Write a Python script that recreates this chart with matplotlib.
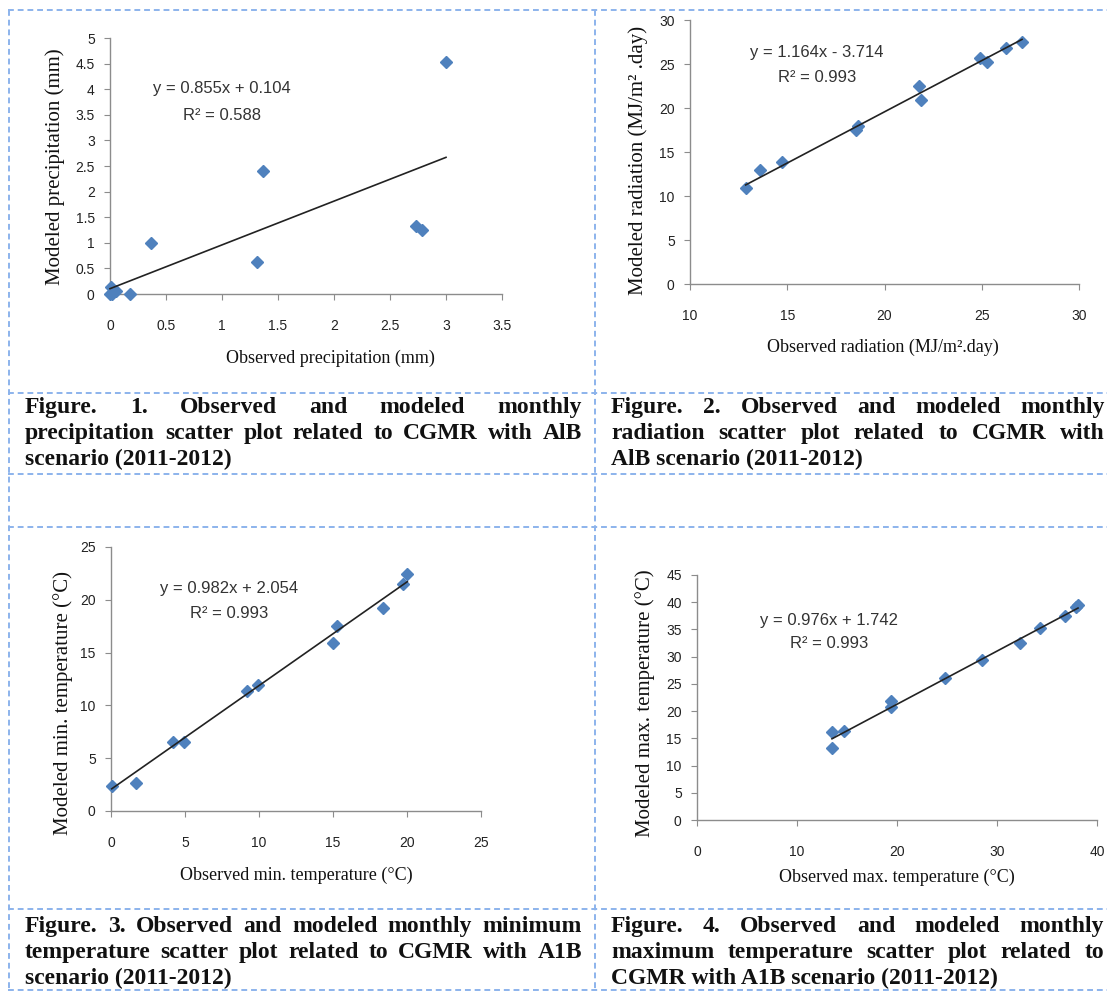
import numpy as np
import matplotlib
matplotlib.use("Agg")
import matplotlib.pyplot as plt
from matplotlib.ticker import FuncFormatter

W, H = 1107, 991

# ---- data ----
# Fig 1: precipitation (mm)
pr_obs = [0.0, 0.01, 0.02, 0.05, 0.18, 0.37, 1.31, 1.37, 2.73, 2.79, 3.0]
pr_mod = [0.0, 0.14, 0.0, 0.05, 0.0, 1.0, 0.63, 2.4, 1.33, 1.25, 4.53]
pr_fit = (0.855, 0.104, "0.588")

# Fig 2: radiation (MJ/m2.day)
rad_obs = [12.86, 13.6, 14.74, 18.53, 18.65, 21.78, 21.87, 24.93, 25.27, 26.23, 27.07]
rad_mod = [10.9, 12.9, 13.92, 17.5, 17.97, 22.5, 20.9, 25.65, 25.27, 26.86, 27.54]
rad_fit = (1.164, -3.714, "0.993")

# Fig 3: minimum temperature (C)
tmin_obs = [0.05, 1.69, 4.21, 4.93, 9.17, 9.91, 14.98, 15.25, 18.4, 19.75, 20.02]
tmin_mod = [2.37, 2.62, 6.57, 6.57, 11.41, 11.95, 15.9, 17.54, 19.2, 21.52, 22.44]
tmin_fit = (0.982, 2.054, "0.993")

# Fig 4: maximum temperature (C)
tmax_obs = [13.5, 13.53, 14.67, 19.37, 19.43, 24.77, 28.5, 32.27, 34.27, 36.77, 37.93, 38.1]
tmax_mod = [13.17, 16.1, 16.4, 20.8, 21.9, 26.1, 29.3, 32.6, 35.3, 37.5, 39.1, 39.5]
tmax_fit = (0.976, 1.742, "0.993")

captions = [
    ["Figure. 1. Observed and modeled monthly",
     "precipitation scatter plot related to CGMR with AlB",
     "scenario (2011-2012)"],
    ["Figure. 2. Observed and modeled monthly",
     "radiation scatter plot related to CGMR with",
     "AlB scenario (2011-2012)"],
    ["Figure. 3. Observed and modeled monthly minimum",
     "temperature scatter plot related to CGMR with A1B",
     "scenario (2011-2012)"],
    ["Figure. 4. Observed and modeled monthly",
     "maximum temperature scatter plot related to",
     "CGMR with A1B scenario (2011-2012)"],
]

BLUE = "#4F81BD"
GRID = "#8CB3EC"
SERIF = "Liberation Serif"
SANS = "Liberation Sans"

fig = plt.figure(figsize=(W / 100, H / 100), dpi=100)
fig.patch.set_facecolor("white")

# full-figure axes in pixel units for the table frame and texts
bg = fig.add_axes([0, 0, 1, 1], zorder=0)
bg.set_xlim(0, W)
bg.set_ylim(H, 0)
bg.axis("off")

dash = dict(color=GRID, lw=1.4, dashes=(3, 2))
for yy in [10, 393, 474, 527, 909, 990]:
    bg.plot([8, W], [yy, yy], **dash)
for xx in [9, 595]:
    bg.plot([xx, xx], [10, H], **dash)


def px_axes(x0, y0, x1, y1):
    return fig.add_axes([x0 / W, 1 - y1 / H, (x1 - x0) / W, (y1 - y0) / H], zorder=2)


fmt = FuncFormatter(lambda v, p: "%g" % v)


def scatter_panel(box, obs, mod, fit, xlim, ylim, xstep, ystep):
    ax = px_axes(*box)
    ax.patch.set_alpha(0)
    ax.plot(obs, mod, "D", ms=6.5, color=BLUE, mec=BLUE, zorder=3, clip_on=False)
    a, b, _ = fit
    xs = np.array([min(obs), max(obs)])
    ax.plot(xs, a * xs + b, color="#222222", lw=1.2, zorder=4, clip_on=False)
    ax.set_xlim(*xlim)
    ax.set_ylim(*ylim)
    ax.set_xticks(np.arange(xlim[0], xlim[1] + xstep / 2, xstep))
    ax.set_yticks(np.arange(ylim[0], ylim[1] + ystep / 2, ystep))
    ax.xaxis.set_major_formatter(fmt)
    ax.yaxis.set_major_formatter(fmt)
    for s in ["top", "right"]:
        ax.spines[s].set_visible(False)
    for s in ["left", "bottom"]:
        ax.spines[s].set_color("#8C8C8C")
        ax.spines[s].set_linewidth(1.0)
    ax.tick_params(axis="both", direction="out", length=4, color="#8C8C8C",
                   labelsize=10, labelcolor="#222222")
    ax.tick_params(axis="x", pad=14)
    ax.tick_params(axis="y", pad=7)
    for lab in ax.get_xticklabels() + ax.get_yticklabels():
        lab.set_family(SANS)
    return ax


scatter_panel((110, 38, 502, 294), pr_obs, pr_mod, pr_fit, (0, 3.5), (0, 5), 0.5, 0.5)
scatter_panel((690, 20, 1079, 284), rad_obs, rad_mod, rad_fit, (10, 30), (0, 30), 5, 5)
scatter_panel((111, 547, 481, 811), tmin_obs, tmin_mod, tmin_fit, (0, 25), (0, 25), 5, 5)
scatter_panel((697, 575, 1097, 820), tmax_obs, tmax_mod, tmax_fit, (0, 40), (0, 45), 10, 5)

# trendline equations
eq_pos = [(222, 89, 116, pr_fit), (817, 52, 78, rad_fit),
          (229, 589, 613, tmin_fit), (829, 620, 644, tmax_fit)]
for x, y1, y2, (a, b, r2) in eq_pos:
    sign = "+" if b >= 0 else "-"
    bg.text(x, y1, "y = %.3fx %s %.3f" % (a, sign, abs(b)), ha="center", va="center",
            family=SANS, fontsize=12, color="#333333")
    bg.text(x, y2, "R² = %s" % r2, ha="center", va="center",
            family=SANS, fontsize=12, color="#333333")

# axis titles
xlabels = [(330, 358, "Observed precipitation (mm)"),
           (883, 347, "Observed radiation (MJ/m².day)"),
           (296, 875, "Observed min. temperature (°C)"),
           (897, 877, "Observed max. temperature (°C)")]
ylabels = [(55, 167, "Modeled precipitation (mm)"),
           (638, 160, "Modeled radiation (MJ/m² .day)"),
           (63, 703, "Modeled min. temperature (°C)"),
           (645, 703, "Modeled max. temperature (°C)")]
for x, y, s in xlabels:
    bg.text(x, y, s, ha="center", va="center", family=SERIF, fontsize=13, color="#111111")
for x, y, s in ylabels:
    bg.text(x, y, s, ha="center", va="center", rotation=90, family=SERIF,
            fontsize=15, color="#111111")

# captions, justified like the word-processor table cells
renderer = fig.canvas.get_renderer()
cap_font = dict(family=SERIF, fontweight="bold", fontsize=17, color="#111111")


def caption_block(lines, x0, x1, y0, step):
    for i, line in enumerate(lines):
        y = y0 + i * step
        if i == len(lines) - 1:
            bg.text(x0, y, line, ha="left", va="baseline", **cap_font)
            continue
        words = line.split()
        texts = [bg.text(0, y, w, ha="left", va="baseline", **cap_font) for w in words]
        widths = [t.get_window_extent(renderer).width for t in texts]
        gap = (x1 - x0 - sum(widths)) / (len(words) - 1)
        xx = x0
        for t, w in zip(texts, widths):
            t.set_x(xx)
            xx += w + gap


caption_block(captions[0], 25, 582, 413, 26)
caption_block(captions[1], 611, 1105, 413, 26)
caption_block(captions[2], 25, 582, 932, 26)
caption_block(captions[3], 611, 1104, 932, 26)

fig.savefig("out.png", dpi=100, facecolor="white")
